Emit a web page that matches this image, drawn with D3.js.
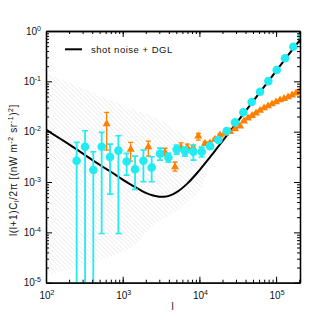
<!DOCTYPE html>
<html>
<head>
<meta charset="utf-8">
<script src="https://cdn.jsdelivr.net/npm/d3@7"></script>
<style>
body { margin: 0; background: #fff; }
text { font-family: "Liberation Sans", Arial, sans-serif; fill: #111; }
</style>
</head>
<body>
<svg width="315" height="315"></svg>
<script>
// cyan circles: multipole l, power, error bar top/bottom
var cyanL = [251, 323, 414, 532, 684, 879, 1127, 1449, 1862, 2388, 3069, 3945, 5058, 6501,
  8337, 10715, 13772, 17660, 22699, 29174, 37411, 48083, 61802, 79250, 101860, 130916, 167880, 215774];
var cyanV = [2.64e-3, 5.01e-3, 1.73e-3, 5.0e-3, 3.13e-3, 4.21e-3, 2.55e-3, 1.80e-3, 2.64e-3, 1.95e-3,
  3.67e-3, 3.08e-3, 4.41e-3, 4.11e-3, 3.98e-3, 3.98e-3, 5.17e-3, 6.81e-3, 1.03e-2, 1.53e-2,
  2.42e-2, 3.88e-2, 6.21e-2, 0.101, 0.168, 0.287, 0.487, 0.795];
var cyanHi = [6.13e-3, 1.04e-2, 3.98e-3, 9.68e-3, 5.67e-3, 8.28e-3, 3.70e-3, 3.27e-3, 4.31e-3, 3.17e-3,
  4.72e-3, 3.76e-3, 5.42e-3, 4.94e-3, 5.42e-3, 4.94e-3, 5.6e-3, 7.3e-3, 1.1e-2, 1.6e-2,
  2.5e-2, 4.0e-2, 6.4e-2, 0.104, 0.172, 0.293, 0.497, 0.81];
var cyanLo = [1e-7, 1e-7, 1e-7, 9.5e-5, 5.74e-4, 9.5e-5, 1.37e-3, 7.13e-4, 1.01e-3, 1.01e-3,
  2.72e-3, 2.49e-3, 3.59e-3, 3.27e-3, 2.72e-3, 3.13e-3, 4.8e-3, 6.4e-3, 9.7e-3, 1.46e-2,
  2.35e-2, 3.78e-2, 6.05e-2, 0.098, 0.164, 0.281, 0.477, 0.78];

// orange triangles
var orangeL = [618, 1271, 2157, 3560, 4808, 5754, 6955, 8318, 9679, 11830, 13740, 15970, 18570,
  21580, 25080, 29140, 33850, 38120, 43030, 48530, 54740, 61730, 69620, 78520, 88560, 99880,
  112640, 127040, 143280, 161590, 182250, 201700];
var orangeV = [1.42e-2, 4.45e-3, 5.0e-3, 3.88e-3, 2.0e-3, 4.87e-3, 4.87e-3, 4.8e-3, 8.18e-3, 5.85e-3,
  5.9e-3, 7.03e-3, 8.56e-3, 9.25e-3, 1.0e-2, 1.13e-2, 1.29e-2, 1.62e-2, 1.86e-2, 2.09e-2, 2.34e-2,
  2.63e-2, 2.95e-2, 3.23e-2, 3.54e-2, 3.88e-2, 4.25e-2, 4.55e-2, 4.88e-2, 5.34e-2, 5.85e-2, 6.27e-2];
var orangeHi = [2.42e-2, 6.13e-3, 6.5e-3, 4.69e-3, 2.5e-3, 6.0e-3, 5.67e-3, 5.3e-3, 9.25e-3, 6.3e-3,
  6.3e-3, 7.4e-3, 9.0e-3, 9.7e-3, 1.04e-2, 1.17e-2, 1.33e-2, 1.66e-2, 1.9e-2, 2.13e-2, 2.38e-2,
  2.67e-2, 2.99e-2, 3.27e-2, 3.58e-2, 3.92e-2, 4.29e-2, 4.59e-2, 4.92e-2, 5.38e-2, 5.9e-2, 6.32e-2];
var orangeLo = [4.31e-3, 2.61e-3, 3.27e-3, 3.3e-3, 1.65e-3, 4.2e-3, 4.21e-3, 4.4e-3, 6.81e-3, 5.4e-3,
  5.5e-3, 6.7e-3, 8.1e-3, 8.8e-3, 9.6e-3, 1.09e-2, 1.25e-2, 1.58e-2, 1.82e-2, 2.05e-2, 2.3e-2,
  2.59e-2, 2.91e-2, 3.19e-2, 3.5e-2, 3.84e-2, 4.21e-2, 4.51e-2, 4.84e-2, 5.3e-2, 5.8e-2, 6.22e-2];

// shot noise + DGL model curve
var modelL = [100, 150, 200, 300, 500, 700, 1000, 1500, 2000, 2500, 3000, 3500, 4000, 5000, 7000,
  10000, 15000, 20000, 30000, 50000, 100000, 205000];
var modelV = [1.1e-2, 7.4e-3, 5.6e-3, 3.7e-3, 2.2e-3, 1.6e-3, 1.12e-3, 7.7e-4, 6.1e-4, 5.4e-4, 5.1e-4,
  5.1e-4, 5.3e-4, 6.2e-4, 9.4e-4, 1.71e-3, 3.67e-3, 6.5e-3, 1.44e-2, 4.0e-2, 0.16, 0.67];

// hatched uncertainty band (upper edge then lower edge)
var bandUpL = [100, 506, 1250, 3060, 7500, 11800, 14600];
var bandUpV = [0.148, 0.052, 0.0294, 0.017, 6.8e-3, 4.3e-3, 3.4e-3];
var bandLoL = [100, 1250, 2630, 4800, 7500, 10200, 14600];
var bandLoV = [1.4e-5, 4.9e-5, 1.5e-4, 2.5e-4, 4.4e-4, 6.9e-4, 3.4e-3];

var xTicks = [2, 3, 4, 5];
var yTicks = [-5, -4, -3, -2, -1, 0];

var pL = 46, pR = 300, pT = 31, pB = 282.7;
var svg = d3.select("svg");

var x = d3.scaleLog().domain([100, 2.05e5]).range([pL, pR]);
var y = d3.scaleLog().domain([1e-5, 1]).range([pB, pT]);

var defs = svg.append("defs");
defs.append("clipPath").attr("id", "clip")
  .append("rect").attr("x", pL).attr("y", pT)
  .attr("width", pR - pL).attr("height", pB - pT);
var pat = defs.append("pattern").attr("id", "hatch")
  .attr("patternUnits", "userSpaceOnUse")
  .attr("width", 3.2).attr("height", 3.2)
  .attr("patternTransform", "rotate(-45)");
pat.append("line").attr("x1", 0).attr("y1", 0).attr("x2", 0).attr("y2", 3.2)
  .attr("stroke", "#cfcfcf").attr("stroke-width", 0.6);

var plot = svg.append("g").attr("clip-path", "url(#clip)");

var band = bandUpL.map((l, i) => [l, bandUpV[i]])
  .concat(bandLoL.map((l, i) => [l, bandLoV[i]]).reverse());
var lineLog = d3.line().x(d => x(d[0])).y(d => y(d[1]));
plot.append("path")
  .attr("d", lineLog.curve(d3.curveCatmullRom)(band) + "Z")
  .attr("fill", "url(#hatch)").attr("stroke", "none");

plot.append("path")
  .datum(modelL.map((l, i) => [l, modelV[i]]))
  .attr("d", d3.line().x(d => x(d[0])).y(d => y(d[1])).curve(d3.curveCatmullRom))
  .attr("fill", "none").attr("stroke", "#000").attr("stroke-width", 2);

var cyan = "#22ecf2", orange = "#ff8000";

// orange error bars + triangles
orangeL.forEach(function(l, i) {
  var g = plot.append("g");
  var cx = x(l);
  g.append("line").attr("x1", cx).attr("x2", cx)
    .attr("y1", y(orangeHi[i])).attr("y2", y(orangeLo[i]))
    .attr("stroke", orange).attr("stroke-width", 1.3);
  [orangeHi[i], orangeLo[i]].forEach(function(v) {
    g.append("line").attr("x1", cx - 2.5).attr("x2", cx + 2.5)
      .attr("y1", y(v)).attr("y2", y(v))
      .attr("stroke", orange).attr("stroke-width", 1.3);
  });
});
plot.selectAll(".tri").data(orangeL).enter().append("path")
  .attr("d", d3.symbol().type(d3.symbolTriangle).size(28))
  .attr("transform", (d, i) => "translate(" + x(d) + "," + y(orangeV[i]) + ")")
  .attr("fill", orange);

// cyan error bars + circles
cyanL.forEach(function(l, i) {
  var cx = x(l);
  plot.append("line").attr("x1", cx).attr("x2", cx)
    .attr("y1", y(cyanHi[i])).attr("y2", y(cyanLo[i]))
    .attr("stroke", cyan).attr("stroke-width", 1.8);
  [cyanHi[i], cyanLo[i]].forEach(function(v) {
    plot.append("line").attr("x1", cx - 3).attr("x2", cx + 3)
      .attr("y1", y(v)).attr("y2", y(v))
      .attr("stroke", cyan).attr("stroke-width", 1.6);
  });
});
plot.selectAll(".dot").data(cyanL).enter().append("circle")
  .attr("cx", d => x(d)).attr("cy", (d, i) => y(cyanV[i]))
  .attr("r", 4.3).attr("fill", cyan);

// axes, ticks pointing inward on all four sides
var minorX = [], minorY = [];
for (var e = 2; e <= 5; e++) for (var m = 1; m < 10; m++) if (m * Math.pow(10, e) <= 2.05e5) minorX.push(m * Math.pow(10, e));
for (var e = -5; e < 0; e++) for (var m = 2; m < 10; m++) minorY.push(m * Math.pow(10, e));
var majX = xTicks.map(p => Math.pow(10, p));
var majY = yTicks.map(p => Math.pow(10, p));

function ax(gen, ticks, size, tr) {
  var g = svg.append("g").attr("transform", tr)
    .call(gen.tickValues(ticks).tickSize(-size).tickSizeOuter(0).tickFormat(""));
  g.selectAll("line").attr("stroke", "#000").attr("stroke-width", 1);
  g.select(".domain").attr("stroke", "#000").attr("stroke-width", 1.3);
}
ax(d3.axisBottom(x), majX, 6, "translate(0," + pB + ")");
ax(d3.axisBottom(x), minorX, 3, "translate(0," + pB + ")");
ax(d3.axisTop(x), majX, 6, "translate(0," + pT + ")");
ax(d3.axisTop(x), minorX, 3, "translate(0," + pT + ")");
ax(d3.axisLeft(y), majY, 6, "translate(" + pL + ",0)");
ax(d3.axisLeft(y), minorY, 3, "translate(" + pL + ",0)");
ax(d3.axisRight(y), majY, 6, "translate(" + pR + ",0)");
ax(d3.axisRight(y), minorY, 3, "translate(" + pR + ",0)");

// tick labels
xTicks.forEach(function(p) {
  var t = svg.append("text").attr("x", x(Math.pow(10, p)) + 1).attr("y", 298.5)
    .attr("text-anchor", "middle").attr("font-size", 10);
  t.append("tspan").text("10");
  t.append("tspan").attr("dy", -4).attr("font-size", 7).text(p);
});
yTicks.forEach(function(p) {
  var t = svg.append("text").attr("x", 41).attr("y", y(Math.pow(10, p)) + 3.5)
    .attr("text-anchor", "end").attr("font-size", 10);
  t.append("tspan").text("10");
  t.append("tspan").attr("dy", -4).attr("font-size", 7).text(p === 0 ? "0" : "-" + (-p));
});

// axis titles
svg.append("text").attr("x", 172.7).attr("y", 310).attr("text-anchor", "middle")
  .attr("font-size", 10).text("l");
var yl = svg.append("text").attr("transform", "translate(17,170) rotate(-90)")
  .attr("text-anchor", "middle").attr("font-size", 10).attr("letter-spacing", 0.6);
yl.append("tspan").text("l(l+1)C");
yl.append("tspan").attr("dy", 2).attr("font-size", 7).text("l");
yl.append("tspan").attr("dy", -2).text("/2\u03c0 [(nW m");
yl.append("tspan").attr("dy", -4).attr("font-size", 7).text("-2");
yl.append("tspan").attr("dy", 4).text(" sr");
yl.append("tspan").attr("dy", -4).attr("font-size", 7).text("-1");
yl.append("tspan").attr("dy", 4).text(")");
yl.append("tspan").attr("dy", -4).attr("font-size", 7).text("2");
yl.append("tspan").attr("dy", 4).text("]");

// legend
svg.append("line").attr("x1", 65).attr("x2", 82).attr("y1", 49.3).attr("y2", 49.3)
  .attr("stroke", "#000").attr("stroke-width", 2);
svg.append("text").attr("x", 91).attr("y", 52.5).attr("font-size", 9.5)
  .attr("letter-spacing", 0.5).text("shot noise + DGL");
</script>
</body>
</html>
